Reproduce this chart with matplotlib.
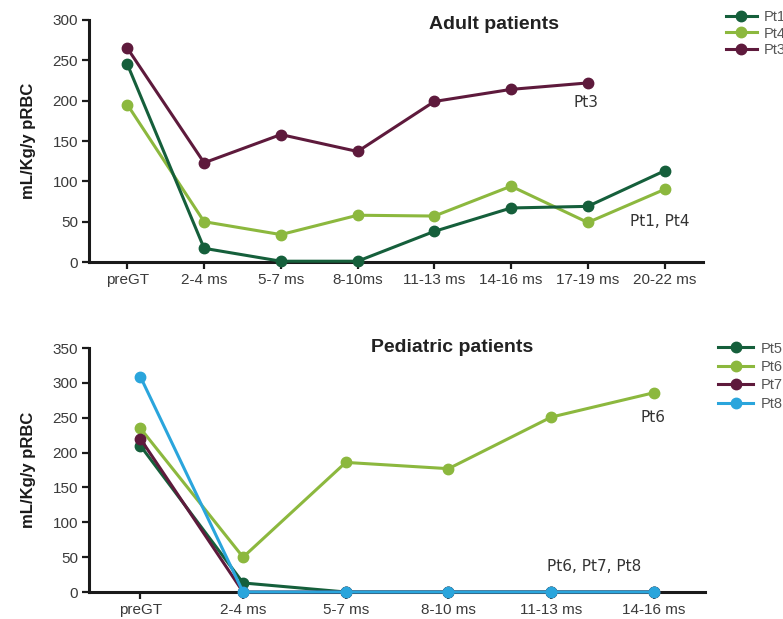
import matplotlib.pyplot as plt

plt.rcParams['font.family'] = ['Liberation Sans', 'DejaVu Sans']

# adult patients
adult_cats = ['preGT', '2-4 ms', '5-7 ms', '8-10ms', '11-13 ms', '14-16 ms', '17-19 ms', '20-22 ms']
pt1 = [245, 17, 1, 1, 38, 67, 69, 113]
pt4 = [195, 50, 34, 58, 57, 94, 49, 90]
pt3 = [265, 123, 158, 137, 199, 214, 222]

# pediatric patients
ped_cats = ['preGT', '2-4 ms', '5-7 ms', '8-10 ms', '11-13 ms', '14-16 ms']
pt5 = [210, 13, 0, 0, 0, 0]
pt6 = [235, 50, 186, 177, 251, 286]
pt7 = [220, 0, 0, 0, 0, 0]
pt8 = [309, 0, 0, 0, 0, 0]

c_dark = '#155f3b'
c_light = '#8cb83e'
c_maroon = '#5e1a3c'
c_blue = '#2aa5dc'
tick_col = '#3a3a3a'

fig = plt.figure(figsize=(7.83, 6.19), dpi=100)
ax1 = fig.add_axes([0.1137, 0.5767, 0.784, 0.391])
ax2 = fig.add_axes([0.1137, 0.0436, 0.787, 0.394])


def style(ax):
    for s in ['top', 'right']:
        ax.spines[s].set_visible(False)
    for s in ['left', 'bottom']:
        ax.spines[s].set_linewidth(2.2)
        ax.spines[s].set_color('#1a1a1a')
    ax.tick_params(direction='out', length=5, width=1.6, color='#1a1a1a',
                   labelsize=11, labelcolor=tick_col, pad=3)
    ax.set_ylabel('mL/Kg/y pRBC', fontsize=12, fontweight='bold', color='#1a1a1a', labelpad=12)


kw = dict(marker='o', markersize=7.5, linewidth=2.2, clip_on=False)
note = dict(fontsize=11, color='#333333', family='DejaVu Sans', va='center')

x = range(len(adult_cats))
ax1.plot(x, pt1, color=c_dark, label='Pt1', zorder=4, **kw)
ax1.plot(x, pt4, color=c_light, label='Pt4', zorder=3, **kw)
ax1.plot(range(len(pt3)), pt3, color=c_maroon, label='Pt3', zorder=3, **kw)
ax1.set_xlim(-0.5, 7.5)
ax1.set_ylim(0, 300)
ax1.set_yticks(range(0, 301, 50))
ax1.set_xticks(list(x))
ax1.set_xticklabels(adult_cats)
style(ax1)
ax1.set_title('Adult patients', fontsize=14, fontweight='bold', color='#222222',
              x=0.66, y=0.93)
ax1.text(5.82, 198, 'Pt3', **note)
ax1.text(6.55, 50, 'Pt1, Pt4', **note)
fig.legend(handles=ax1.get_lines(), loc='upper left', bbox_to_anchor=(0.918, 0.995),
           frameon=False, fontsize=10.5, handlelength=2.1, handletextpad=0.5,
           labelspacing=0.15, borderpad=0, labelcolor='#555555')

x = range(len(ped_cats))
ax2.plot(x, pt5, color=c_dark, label='Pt5', zorder=3, **kw)
ax2.plot(x, pt6, color=c_light, label='Pt6', zorder=3, **kw)
ax2.plot(x, pt7, color=c_maroon, label='Pt7', zorder=3, **kw)
ax2.plot(x, pt8, color=c_blue, label='Pt8', zorder=4, **kw)
ax2.set_xlim(-0.5, 5.5)
ax2.set_ylim(0, 350)
ax2.set_yticks(range(0, 351, 50))
ax2.set_xticks(list(x))
ax2.set_xticklabels(ped_cats)
style(ax2)
ax2.set_title('Pediatric patients', fontsize=14, fontweight='bold', color='#222222',
              x=0.59, y=0.95)
ax2.text(4.87, 251, 'Pt6', **note)
ax2.text(3.96, 36, 'Pt6, Pt7, Pt8', **note)
fig.legend(handles=ax2.get_lines(), loc='upper left', bbox_to_anchor=(0.908, 0.46),
           frameon=False, fontsize=10.5, handlelength=2.4, handletextpad=0.5,
           labelspacing=0.3, borderpad=0, labelcolor='#555555')

fig.savefig('out.png', dpi=100)
